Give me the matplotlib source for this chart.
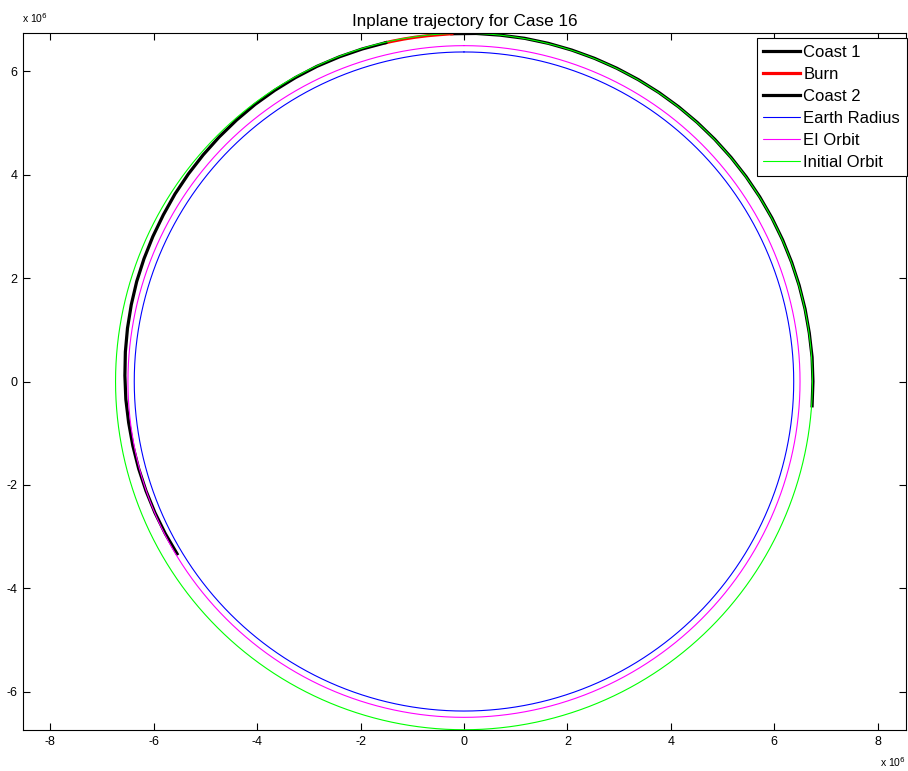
import numpy as np
import matplotlib
matplotlib.use("Agg")
import matplotlib.pyplot as plt

# Radii in units of 1e6 m
EARTH_RADIUS = 6.378
EI_RADIUS = 6.50
INITIAL_RADIUS = 6.74

# Trajectory segments: polar angle (deg) and radius (1e6 m)
coast1_ang = [-4, 0, 4, 8, 12, 16, 20, 24, 28, 32, 36, 40, 44, 48, 52,
              56, 60, 64, 68, 72, 76, 80, 84, 88, 92]
coast1_rad = [6.75, 6.75, 6.75, 6.745, 6.745, 6.745, 6.745, 6.745, 6.745,
              6.745, 6.745, 6.745, 6.745, 6.745, 6.745, 6.745, 6.745, 6.745,
              6.745, 6.745, 6.745, 6.745, 6.74, 6.74, 6.735]

burn_ang = [92, 94, 96, 98, 100, 102, 103]
burn_rad = [6.735, 6.73, 6.73, 6.73, 6.73, 6.73, 6.73]

coast2_ang = [103, 107, 111, 115, 119, 123, 127, 131, 135, 139, 143, 147,
              151, 155, 159, 163, 167, 171, 175, 179, 183, 187, 191, 195,
              199, 203, 207, 211]
coast2_rad = [6.73, 6.73, 6.73, 6.73, 6.725, 6.72, 6.715, 6.705, 6.695,
              6.685, 6.675, 6.665, 6.65, 6.64, 6.63, 6.62, 6.605, 6.59,
              6.575, 6.56, 6.55, 6.535, 6.525, 6.515, 6.505, 6.495, 6.485,
              6.475]


def polar_xy(ang, rad):
    a = np.radians(ang)
    r = np.asarray(rad)
    return r * np.cos(a), r * np.sin(a)


def circle(radius):
    t = np.linspace(0.5 * np.pi, 2.5 * np.pi, 721)
    return radius * np.cos(t), radius * np.sin(t)


plt.rcParams['font.family'] = ['Liberation Sans', 'DejaVu Sans']
plt.rcParams['axes.unicode_minus'] = False

fig = plt.figure(figsize=(9.08, 7.71), dpi=100)
ax = fig.add_axes([23 / 908, 41 / 771, 883 / 908, 697 / 771])

x, y = polar_xy(coast1_ang, coast1_rad)
ax.plot(x, y, color='black', lw=2.3, label='Coast 1')
x, y = polar_xy(burn_ang, burn_rad)
ax.plot(x, y, color='red', lw=2.3, label='Burn')
x, y = polar_xy(coast2_ang, coast2_rad)
ax.plot(x, y, color='black', lw=2.3, label='Coast 2')

x, y = circle(EARTH_RADIUS)
ax.plot(x, y, color='blue', lw=0.8, solid_capstyle='round', label='Earth Radius')
x, y = circle(EI_RADIUS)
ax.plot(x, y, color='magenta', lw=0.8, solid_capstyle='round', label='EI Orbit')
x, y = circle(INITIAL_RADIUS)
ax.plot(x, y, color='#00ff00', lw=0.8, solid_capstyle='round', label='Initial Orbit')

ax.set_xlim(-8.53, 8.55)
ax.set_ylim(-6.745, 6.745)
ax.set_xticks(np.arange(-8, 9, 2))
ax.set_yticks(np.arange(-6, 7, 2))
ax.tick_params(direction='in', length=5, width=0.8, top=True, right=True,
               labelsize=9, pad=4)
for s in ax.spines.values():
    s.set_linewidth(0.8)

ax.set_title('Inplane trajectory for Case 16', fontsize=12.3, pad=5)

leg = ax.legend(loc='upper right', bbox_to_anchor=(1.001, 0.993),
                borderaxespad=0, fontsize=12, handlelength=2.2,
                labelspacing=0.42, handletextpad=0.2, borderpad=0.4,
                fancybox=False, framealpha=1, edgecolor='black')
leg.get_frame().set_linewidth(0.8)

fig.text(22 / 908, 1 - 18 / 771, r'x 10$^{6}$', fontsize=7.5,
         va='center', ha='left')
fig.text(880 / 908, 1 - 762 / 771, r'x 10$^{6}$', fontsize=7.5,
         va='center', ha='left')

fig.savefig('out.png', dpi=100)
